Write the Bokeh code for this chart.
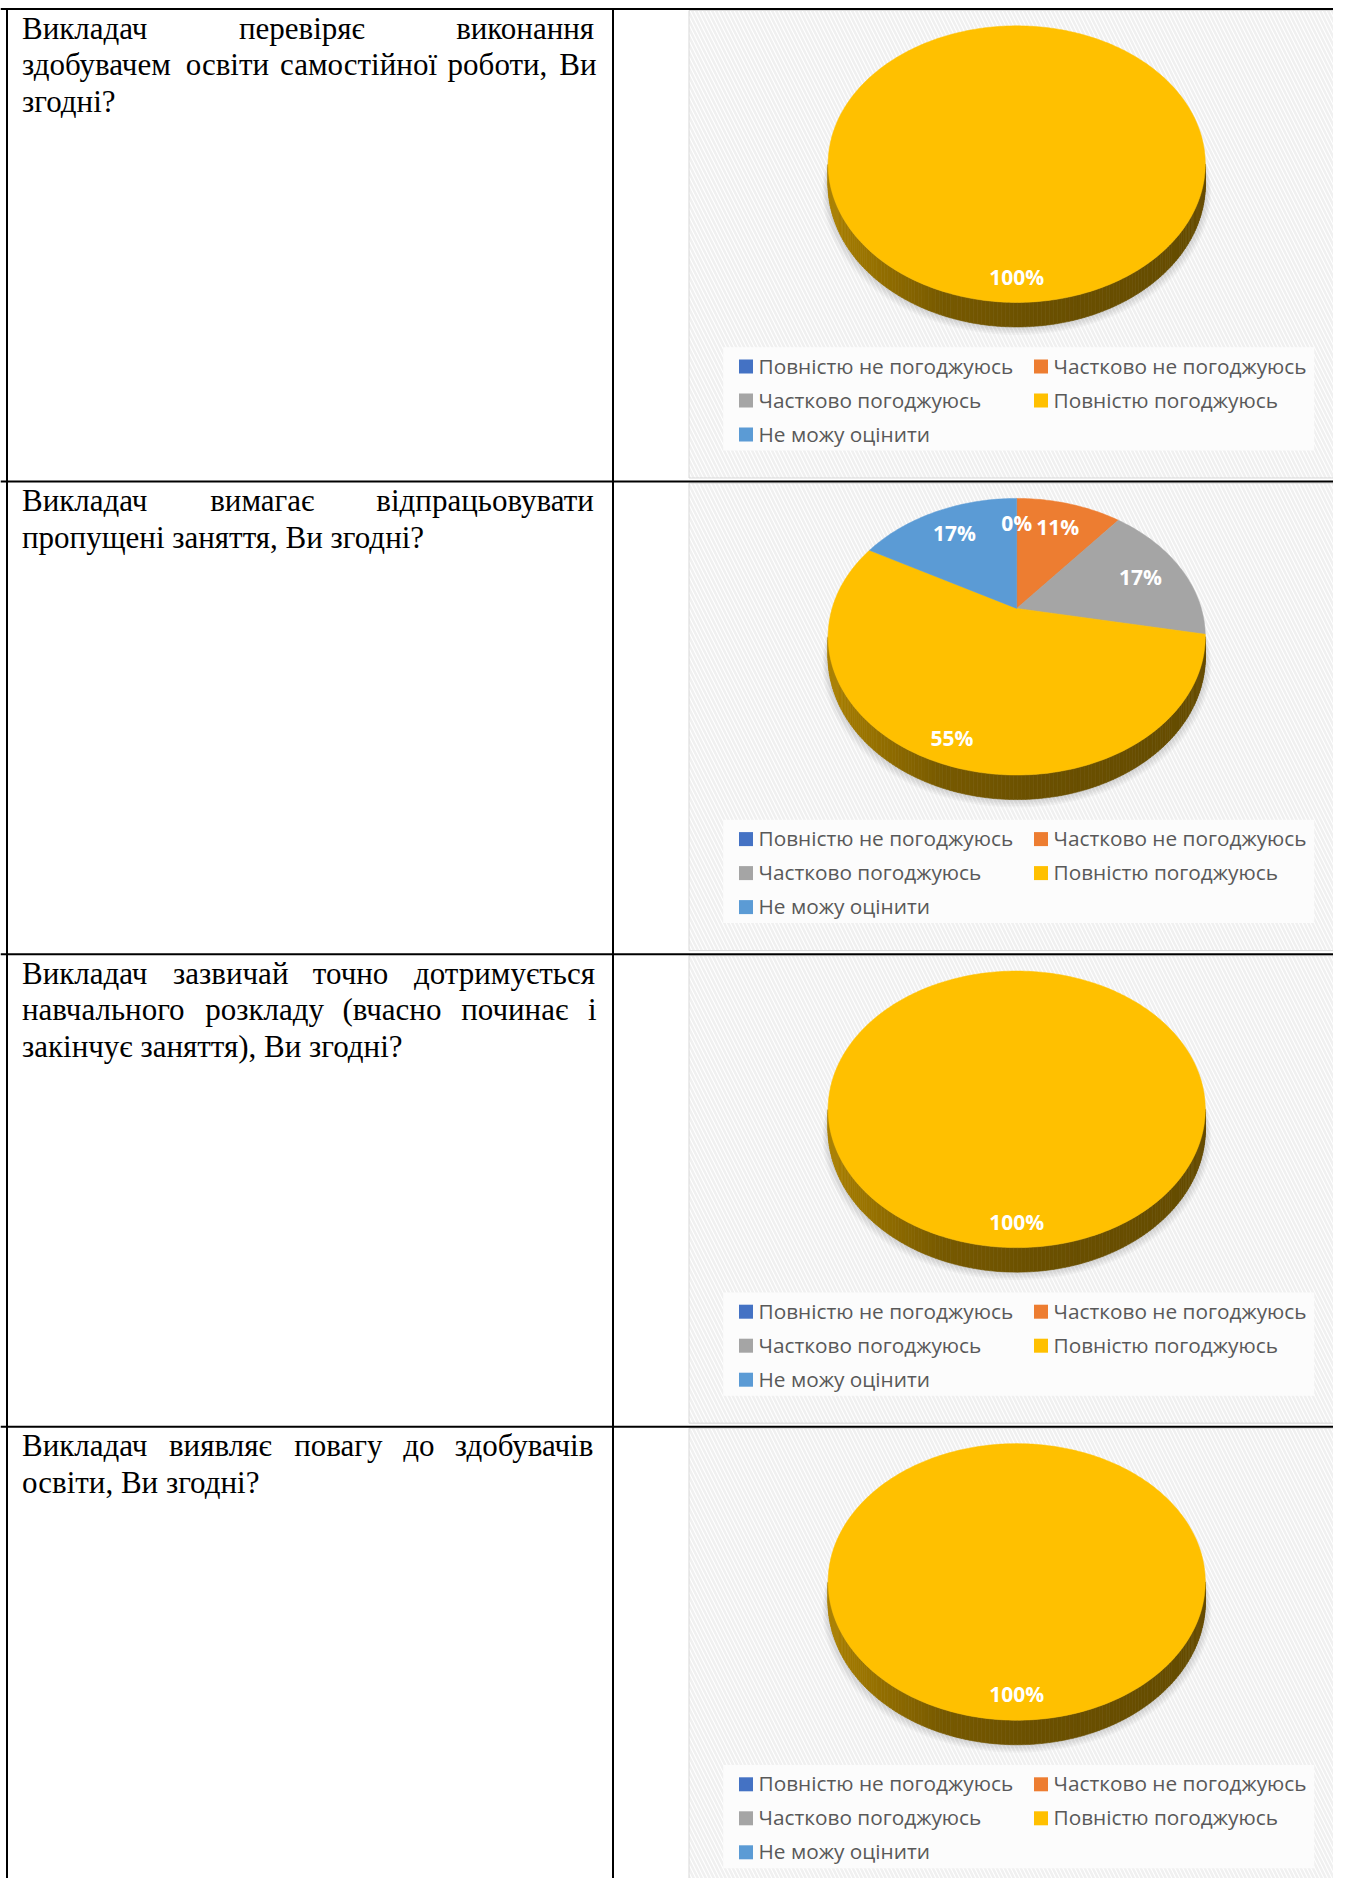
import math
from bokeh.plotting import figure
from bokeh.models import Range1d
from bokeh.embed import file_html
from bokeh.resources import INLINE
from bokeh.core.properties import value

# ---------------- data ----------------
categories = ["Повністю не погоджуюсь", "Частково не погоджуюсь",
              "Частково погоджуюсь", "Повністю погоджуюсь", "Не можу оцінити"]
slice_colors = ["#4472C4", "#ED7D31", "#A5A5A5", "#FFC000", "#5B9BD5"]

question_lines = [
    ["Викладач перевіряє виконання",
     "здобувачем освіти самостійної роботи, Ви",
     "згодні?"],
    ["Викладач вимагає відпрацьовувати",
     "пропущені заняття, Ви згодні?"],
    ["Викладач зазвичай точно дотримується",
     "навчального розкладу (вчасно починає і",
     "закінчує заняття), Ви згодні?"],
    ["Викладач виявляє повагу до здобувачів",
     "освіти, Ви згодні?"],
]

q1_pct = [0, 0, 0, 100, 0]
q2_pct = [0, 11, 17, 55, 17]
q3_pct = [0, 0, 0, 100, 0]
q4_pct = [0, 0, 0, 100, 0]
pie_values = [q1_pct, q2_pct, q3_pct, q4_pct]
label_zero = [False, True, False, False]

# ---------------- layout (page pixels) ----------------
PW, PH = 1333, 1878
ROW_TOP0, ROW_H = 8.5, 472.6
COL_X = 612.5
TEXT_L, TEXT_R = 21.5, 596.0
TEXT_FS = 31
LINE_H = 36.5
BASE_OFF = 19
BG_L, BG_R = 688.5, 1343.0
CX, CY_OFF = 1016.2, 126.8
A, B, G, T = 184.6, 132.5, 0.2048, 19.5

p = figure(width=PW, height=PH, x_range=Range1d(0, PW), y_range=Range1d(PH, 0),
           output_backend="svg", toolbar_location=None, min_border=0,
           x_axis_location=None, y_axis_location=None)
p.grid.visible = False
p.outline_line_color = None
p.background_fill_color = "white"
p.border_fill_color = "white"

# character width table (em) for justified serif text
CW = {'а': 0.444, 'б': 0.5, 'в': 0.472, 'г': 0.41, 'д': 0.509, 'е': 0.444, 'є': 0.44,
      'ж': 0.691, 'з': 0.395, 'и': 0.535, 'й': 0.535, 'і': 0.278, 'ї': 0.278, 'к': 0.486,
      'л': 0.499, 'м': 0.633, 'н': 0.535, 'о': 0.5, 'п': 0.535, 'р': 0.5, 'с': 0.444,
      'т': 0.437, 'у': 0.5, 'ф': 0.648, 'х': 0.5, 'ц': 0.535, 'ч': 0.503, 'ш': 0.77,
      'щ': 0.77, 'ь': 0.469, 'ю': 0.77, 'я': 0.486, 'В': 0.667, ',': 0.25, '?': 0.444,
      '(': 0.333, ')': 0.333, ' ': 0.25}


def word_w(w):
    return sum(CW.get(c, 0.5) for c in w) * TEXT_FS


def proj(cx, cy, u, v, drop=0.0):
    d = 1 + G * v
    return cx + A * u / d, cy - B * v / d + drop * T / d


def shade(t):
    stops = [(0.0, 0.68), (0.08, 0.62), (0.3, 0.47), (0.55, 0.42), (1.0, 0.40)]
    for (t0, f0), (t1, f1) in zip(stops[:-1], stops[1:]):
        if t <= t1:
            return f0 + (f1 - f0) * (t - t0) / (t1 - t0)
    return stops[-1][1]


def dark(hexc, f):
    r, g, b = int(hexc[1:3], 16), int(hexc[3:5], 16), int(hexc[5:7], 16)
    return "#%02x%02x%02x" % (int(r * f), int(g * f), int(b * f))


row_tops = [ROW_TOP0 + ROW_H * k for k in range(4)]

# chart backgrounds
for rt in row_tops:
    p.quad(left=BG_L, right=BG_R, top=rt + 1.5, bottom=rt + 469, fill_color="white",
           hatch_pattern="left_diagonal_line", hatch_color="#F0F0F0", hatch_scale=8,
           hatch_weight=2.5, line_color="#D9D9D9", line_width=1)

# table lines
for rt in row_tops:
    p.line(x=[0, PW], y=[rt, rt], line_color="black", line_width=2)
for xv in (6.5, COL_X):
    p.line(x=[xv, xv], y=[ROW_TOP0, PH], line_color="black", line_width=2)

# question texts (justified)
tx, ty, tt = [], [], []
for k, lines in enumerate(question_lines):
    rt = row_tops[k]
    for i, line in enumerate(lines):
        yb = rt + BASE_OFF + LINE_H * i
        words = line.split()
        if i == len(lines) - 1 or len(words) == 1:
            tx.append(TEXT_L); ty.append(yb); tt.append(line)
            continue
        widths = [word_w(w) for w in words]
        gap = (TEXT_R - TEXT_L - sum(widths)) / (len(words) - 1)
        x = TEXT_L
        for w, wd in zip(words, widths):
            tx.append(x); ty.append(yb); tt.append(w)
            x += wd + gap
p.text(x=tx, y=ty, text=tt, text_font=value("Liberation Serif"), text_font_size="31px",
       text_color="black", text_align="left", text_baseline="alphabetic")

# pies
th_l = math.degrees(math.acos(-G))
th_r = 360 - th_l
for k, vals in enumerate(pie_values):
    rt = row_tops[k]
    cy = rt + CY_OFF
    total = sum(vals)
    # soft shadow
    for s in range(1, 6):
        xs, ys = [], []
        for a in range(0, 361, 3):
            u, v = math.sin(math.radians(a)), math.cos(math.radians(a))
            x, y = proj(CX, cy, u, v, 1.0)
            xs.append(CX + (x - CX) * (1 + 0.006 * s)); ys.append(y + 1.6 * s)
        p.patch(xs, ys, fill_color="black", fill_alpha=0.028, line_color=None)
    side_xs, side_ys, side_c = [], [], []
    top_xs, top_ys, top_c = [], [], []
    lab_x, lab_y, lab_t = [], [], []
    start = 0.0
    for val, col in zip(vals, slice_colors):
        ang = 360.0 * val / total
        s_a, e_a = start, start + ang
        start = e_a
        if ang > 0:
            a0, a1 = max(s_a, th_l), min(e_a, th_r)
            a = a0
            while a < a1 - 1e-9:
                b = min(a + 1.0, a1)
                pts = []
                for aa, dr in ((a, 0), (b, 0), (b, 1), (a, 1)):
                    u, v = math.sin(math.radians(aa)), math.cos(math.radians(aa))
                    pts.append(proj(CX, cy, u, v, dr))
                xm = (pts[0][0] + pts[1][0]) / 2
                t = (xm - (CX - A * 1.0217)) / (2 * A * 1.0217)
                c = dark(col, shade(min(max(t, 0), 1)))
                side_xs.append([q[0] for q in pts]); side_ys.append([q[1] for q in pts])
                side_c.append(c)
                a = b
            n = max(int(ang / 1.0), 2)
            xs, ys = ([], []) if ang >= 359.999 else ([CX], [cy])
            for i in range(n + 1):
                aa = math.radians(s_a + ang * i / n)
                x, y = proj(CX, cy, math.sin(aa), math.cos(aa))
                xs.append(x); ys.append(y)
            top_xs.append(xs); top_ys.append(ys); top_c.append(col)
        if val > 0 or label_zero[k]:
            m = math.radians((s_a + e_a) / 2)
            r = 0.75 + 0.12 * max(0.0, -math.cos(m))
            x, y = proj(CX, cy, r * math.sin(m), r * math.cos(m))
            lab_x.append(x); lab_y.append(y + 0.5); lab_t.append(f"{val}%")
    p.patches(xs=side_xs, ys=side_ys, fill_color=side_c, line_color=side_c, line_width=0.6)
    p.patches(xs=top_xs, ys=top_ys, fill_color=top_c, line_color=top_c, line_width=0.5)
    p.text(x=lab_x, y=lab_y, text=lab_t, text_font=value("Open Sans"), text_font_size="21px",
           text_font_style="bold", text_color="white", text_align="center",
           text_baseline="alphabetic")

    # legend
    p.quad(left=722.7, right=1313.7, top=rt + 338.2, bottom=rt + 441.5,
           fill_color="#FCFCFC", line_color=None)
    mx, my, mc, lx, ly = [], [], [], [], []
    for i, (cat, col) in enumerate(zip(categories, slice_colors)):
        r_i, c_i = divmod(i, 2)
        yc = rt + 357 + 34 * r_i
        mx.append(745.5 + 295 * c_i); my.append(yc + 0.5); mc.append(col)
        lx.append(758 + 295 * c_i); ly.append(yc - 0.5)
    p.scatter(x=mx, y=my, marker="square", size=14, fill_color=mc, line_color=None)
    p.text(x=lx, y=ly, text=categories, text_font=value("Open Sans"), text_font_size="20.8px",
           text_color="#595959", text_align="left", text_baseline="alphabetic")

open("out.html", "w").write(file_html(p, INLINE))
